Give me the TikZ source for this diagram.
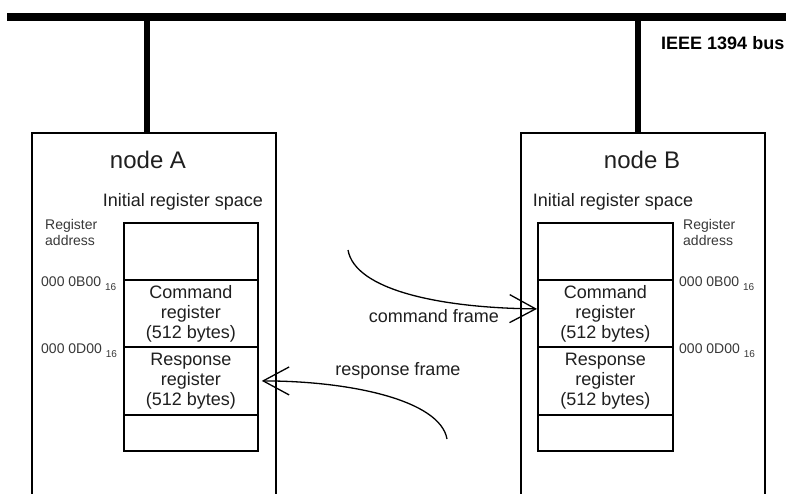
\documentclass[tikz,border=0pt]{standalone}
\usepackage{fontspec}
\setmainfont{Liberation Sans}
\usetikzlibrary{arrows.meta}
\begin{document}
\begin{tikzpicture}[x=1pt,y=-1pt,
  bus/.style={line width=8pt},
  stub/.style={line width=5.5pt},
  frame/.style={line width=1.3pt},
  cell/.style={draw,line width=1.8pt,anchor=north west,inner sep=0pt,
    minimum width=134pt,align=center,font=\fontsize{18}{20}\selectfont,text=black!88},
  title/.style={font=\fontsize{24}{26}\selectfont,text=black!88},
  space/.style={font=\fontsize{18}{20}\selectfont,text=black!88},
  small/.style={font=\fontsize{14}{16}\selectfont,text=black!78,align=left,inner sep=0pt},
  addr/.style={small,anchor=west},
  flow/.style={line width=1.3pt,-{Straight Barb[length=26pt,width=28pt,line width=1.3pt]}},
  lbl/.style={font=\fontsize{18}{20}\selectfont,text=black!88}]
\useasboundingbox (0,0) rectangle (786,494);
\newcommand{\hexsub}{\raisebox{-4pt}{\fontsize{10}{10}\selectfont 16}}

% bus
\coordinate (busL) at (7,17);
\coordinate (busR) at (786,17);
\draw[bus] (busL) -- (busR);
\node[font=\fontsize{18}{20}\selectfont\bfseries,inner sep=0pt,anchor=west] (buslbl) at (661,43) {IEEE 1394 bus};

% taps from the bus into the nodes
\coordinate (tapA) at (147,21);
\coordinate (topA) at (147,133);
\coordinate (tapB) at (638,21);
\coordinate (topB) at (638,133);
\draw[stub] (tapA) -- (topA);
\draw[stub] (tapB) -- (topB);

% node frames (open towards the bottom)
\draw[frame] (32,494) |- (276,133) -- (276,494);
\draw[frame] (521,494) |- (765,133) -- (765,494);

% node A
\node[title] (titleA) at (148,160) {node A};
\node[space] (spaceA) at (183,202) {Initial register space};
\node[small,anchor=north west] (regA) at (45,219) {Register\\address};
\node[cell,minimum height=57pt] (a0) at (123,222) {};
\node[cell,minimum height=67pt] (aCmd) at (123,279) {Command\\register\\(512 bytes)};
\node[cell,minimum height=68pt] (aResp) at (123,346) {Response\\register\\(512 bytes)};
\node[cell,minimum height=36pt] (a3) at (123,414) {};
\node[addr] (addrA1) at (41,284) {000 0B00 \hexsub};
\node[addr] (addrA2) at (41,351) {000 0D00 \hexsub};

% node B
\node[title] (titleB) at (642,160) {node B};
\node[space] (spaceB) at (613,202) {Initial register space};
\node[small,anchor=north west] (regB) at (683,219) {Register\\address};
\node[cell,minimum height=57pt,minimum width=135pt] (b0) at (537,222) {};
\node[cell,minimum height=67pt,minimum width=135pt] (bCmd) at (537,279) {Command\\register\\(512 bytes)};
\node[cell,minimum height=68pt,minimum width=135pt] (bResp) at (537,346) {Response\\register\\(512 bytes)};
\node[cell,minimum height=36pt,minimum width=135pt] (b3) at (537,414) {};
\node[addr] (addrB1) at (679,284) {000 0B00 \hexsub};
\node[addr] (addrB2) at (679,351) {000 0D00 \hexsub};

% frames exchanged between the nodes
\coordinate (cmdStart) at (348,250);
\coordinate (respStart) at (447,439);
\draw[flow] (cmdStart) .. controls (355,290) and (440,308) .. ([yshift=4.5pt]bCmd.west);
\draw[flow] (respStart) .. controls (440,400) and (350,381) .. ([xshift=3pt]aResp.east);
\node[lbl] (cmdLbl) at (434,316) {command frame};
\node[lbl] (respLbl) at (398,371) {response frame};
\end{tikzpicture}
\end{document}
